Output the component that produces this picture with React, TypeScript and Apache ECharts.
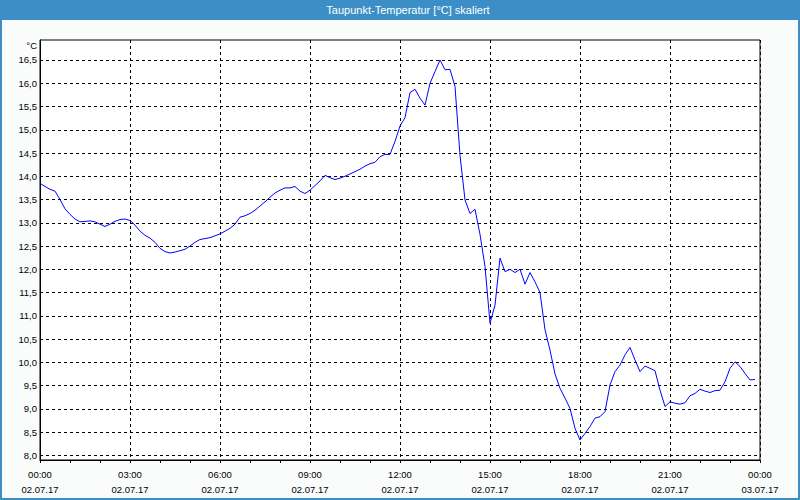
import React, { useEffect, useRef } from "react";
import * as echarts from "echarts";

const TITLE = "Taupunkt-Temperatur [°C] skaliert";
const Y_UNIT = "°C";
const STEP_MINUTES = 10;
const Y_TICKS = [8, 8.5, 9, 9.5, 10, 10.5, 11, 11.5, 12, 12.5, 13, 13.5, 14, 14.5, 15, 15.5, 16, 16.5];
const X_TICK_LABELS = [
  "00:00\n02.07.17",
  "03:00\n02.07.17",
  "06:00\n02.07.17",
  "09:00\n02.07.17",
  "12:00\n02.07.17",
  "15:00\n02.07.17",
  "18:00\n02.07.17",
  "21:00\n02.07.17",
  "00:00\n03.07.17",
];
const DEW_POINT = [
  13.85, 13.78, 13.72, 13.68, 13.5, 13.3, 13.18, 13.08, 13.02, 13.03,
  13.04, 13.02, 12.97, 12.92, 12.97, 13.03, 13.07, 13.08, 13.05, 12.95,
  12.82, 12.73, 12.67, 12.58, 12.45, 12.38, 12.35, 12.37, 12.4, 12.43,
  12.5, 12.58, 12.64, 12.66, 12.68, 12.72, 12.76, 12.82, 12.88, 12.97,
  13.12, 13.15, 13.2, 13.27, 13.36, 13.45, 13.55, 13.64, 13.7, 13.75,
  13.75, 13.78, 13.68, 13.63, 13.7, 13.8, 13.9, 14.02, 13.97, 13.93,
  13.96, 14.0, 14.05, 14.1, 14.15, 14.22, 14.27, 14.3, 14.42, 14.47,
  14.47, 14.75, 15.08, 15.26, 15.8, 15.87, 15.68, 15.53, 16.0, 16.25,
  16.5, 16.29, 16.3, 15.93, 14.45, 13.49, 13.2, 13.29, 12.75, 12.06,
  10.84, 11.23, 12.24, 11.95, 12.0, 11.93, 12.0, 11.68, 11.93, 11.73,
  11.5, 10.7, 10.26, 9.75, 9.44, 9.23, 9.01, 8.58, 8.33, 8.47,
  8.62, 8.8, 8.83, 8.94, 9.51, 9.8, 9.94, 10.16, 10.32, 10.05,
  9.8, 9.92, 9.87, 9.82, 9.4, 9.05, 9.15, 9.12, 9.1, 9.13,
  9.28, 9.33, 9.42, 9.38, 9.35, 9.39, 9.4, 9.58, 9.87, 10.01,
  9.91, 9.76, 9.62, 9.63,
];

const BLUE = "#3c8fc6";
const FONT = "'Liberation Sans', Arial, sans-serif";

export default function App() {
  const ref = useRef<HTMLDivElement>(null);
  useEffect(() => {
    if (!ref.current) return;
    const chart = echarts.init(ref.current, null, { renderer: "svg" });
    const data = DEW_POINT.map((v, i) => [i * STEP_MINUTES, v]);
    chart.setOption({
      animation: false,
      backgroundColor: "#fafcfb",
      textStyle: { fontFamily: FONT },
      grid: {
        left: 40,
        right: 40,
        top: 40,
        bottom: 40,
        show: true,
        backgroundColor: "#ffffff",
        borderColor: "#000",
        borderWidth: 1,
      },
      xAxis: {
        type: "value",
        min: 0,
        max: 1440,
        interval: 180,
        axisLine: { show: true, onZero: false, lineStyle: { color: "#000", width: 1 } },
        axisTick: { show: true, length: 3, inside: false, lineStyle: { color: "#000" } },
        minorTick: { show: true, splitNumber: 3, length: 3, lineStyle: { color: "#000" } },
        splitLine: { show: true, lineStyle: { color: "#000", type: [3, 3], width: 1 } },
        axisLabel: {
          color: "#000",
          fontSize: 9.5,
          lineHeight: 15,
          margin: 7,
          fontFamily: FONT,
          formatter: (v: number) => X_TICK_LABELS[Math.round(v / 180)] ?? "",
        },
      },
      yAxis: {
        type: "value",
        min: 7.899,
        max: 16.93,
        axisLine: { show: true, onZero: false, lineStyle: { color: "#000", width: 1 } },
        axisTick: { show: false, customValues: Y_TICKS },
        splitLine: { show: true, lineStyle: { color: "#000", type: [3, 3], width: 1 } },
        axisLabel: {
          color: "#000",
          fontSize: 9.5,
          margin: 3,
          fontFamily: FONT,
          customValues: Y_TICKS,
          formatter: (v: number) => v.toFixed(1).replace(".", ","),
        },
      },
      series: [
        {
          type: "line",
          data,
          showSymbol: false,
          symbol: "none",
          lineStyle: { color: "#0000ff", width: 1 },
          itemStyle: { color: "#0000ff" },
        },
      ],
      graphic: [
        {
          type: "rect",
          shape: { x: 0, y: 0, width: 800, height: 20 },
          style: { fill: BLUE },
          silent: true,
        },
        {
          type: "rect",
          shape: { x: 1, y: 1, width: 798, height: 498 },
          style: { fill: "none", stroke: BLUE, lineWidth: 2 },
          silent: true,
        },
        {
          type: "text",
          x: 408,
          y: 10,
          style: {
            text: TITLE,
            fill: "#ffffff",
            font: `11px ${FONT}`,
            textAlign: "center",
            textVerticalAlign: "middle",
          },
          silent: true,
        },
        {
          type: "text",
          x: 37,
          y: 45,
          style: {
            text: Y_UNIT,
            fill: "#000",
            font: `9.5px ${FONT}`,
            textAlign: "right",
            textVerticalAlign: "middle",
          },
          silent: true,
        },
      ],
    });
    return () => chart.dispose();
  }, []);
  return (
    <div
      ref={ref}
      style={{ position: "fixed", left: 0, top: 0, width: 800, height: 500 }}
    />
  );
}
